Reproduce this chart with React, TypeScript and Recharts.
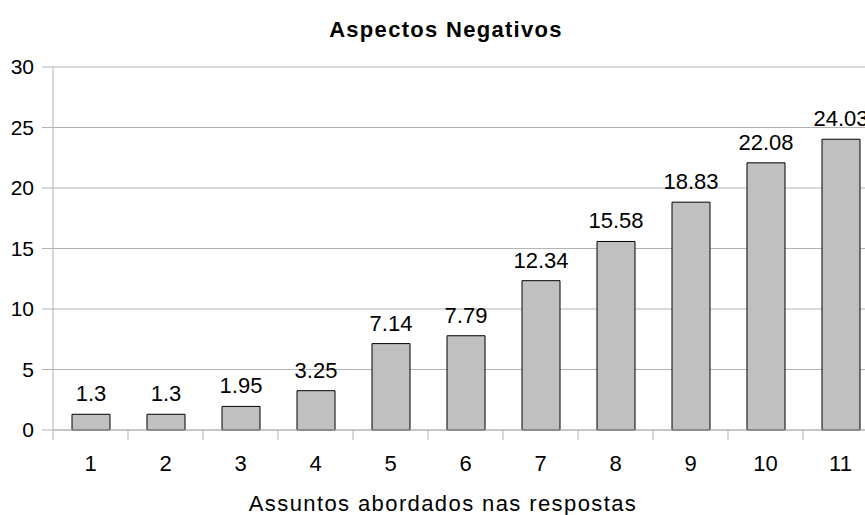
import React from "react";
import { BarChart, Bar, XAxis, YAxis, CartesianGrid, LabelList } from "recharts";

const categories = ["1", "2", "3", "4", "5", "6", "7", "8", "9", "10", "11"];
const values = [1.3, 1.3, 1.95, 3.25, 7.14, 7.79, 12.34, 15.58, 18.83, 22.08, 24.03];
const yTicks = [0, 5, 10, 15, 20, 25, 30];

const title = "Aspectos Negativos";
const xTitle = "Assuntos abordados nas respostas";

const FONT = '"Liberation Sans", Arial, Helvetica, sans-serif';
const GRID = "#b3b3b3";

const data = categories.map((c, i) => ({ cat: c, value: values[i] }));

// category axis ticks sit between bars, so the tick mark is drawn at the band's left edge
function CatTick(props: any) {
  const { x, y, payload } = props;
  const half = payload.offset ?? 0;
  return (
    <g>
      <line x1={x - half} y1={y} x2={x - half} y2={y + 10} stroke={GRID} strokeWidth={1} />
      <text x={x} y={y + 41} textAnchor="middle" fontFamily={FONT} fontSize={22} fill="#000">
        {payload.value}
      </text>
    </g>
  );
}

export default function App() {
  return (
    <div
      style={{
        position: "absolute",
        left: 0,
        top: 0,
        width: 865,
        height: 515,
        overflow: "hidden",
        background: "#fff",
      }}
    >
      <BarChart
        width={880}
        height={515}
        data={data}
        margin={{ top: 67, right: 2, bottom: 0, left: 0 }}
        barSize={38}
      >
        <CartesianGrid stroke={GRID} vertical={false} />
        <XAxis
          dataKey="cat"
          height={85}
          tickLine={false}
          tickSize={0}
          tickMargin={0}
          axisLine={{ stroke: GRID }}
          tick={<CatTick />}
          interval={0}
        />
        <YAxis
          domain={[0, 30]}
          ticks={yTicks}
          width={53}
          tickSize={11}
          tickMargin={8}
          axisLine={{ stroke: GRID }}
          tickLine={{ stroke: GRID }}
          tick={{ fontFamily: FONT, fontSize: 21, fill: "#000" }}
        />
        <Bar dataKey="value" fill="#c0c0c0" stroke="#000" strokeWidth={1} isAnimationActive={false}>
          <LabelList
            dataKey="value"
            position="top"
            offset={13}
            fontFamily={FONT}
            fontSize={22}
            fill="#000"
          />
        </Bar>
      </BarChart>
      <svg
        width={865}
        height={515}
        style={{ position: "absolute", left: 0, top: 0, pointerEvents: "none" }}
      >
        <text
          x={446}
          y={37}
          textAnchor="middle"
          fontFamily={FONT}
          fontSize={22}
          fontWeight="bold"
          letterSpacing={1.3}
          fill="#000"
        >
          {title}
        </text>
        <text
          x={443}
          y={511}
          textAnchor="middle"
          fontFamily={FONT}
          fontSize={22}
          letterSpacing={1.4}
          fill="#000"
        >
          {xTitle}
        </text>
      </svg>
    </div>
  );
}
